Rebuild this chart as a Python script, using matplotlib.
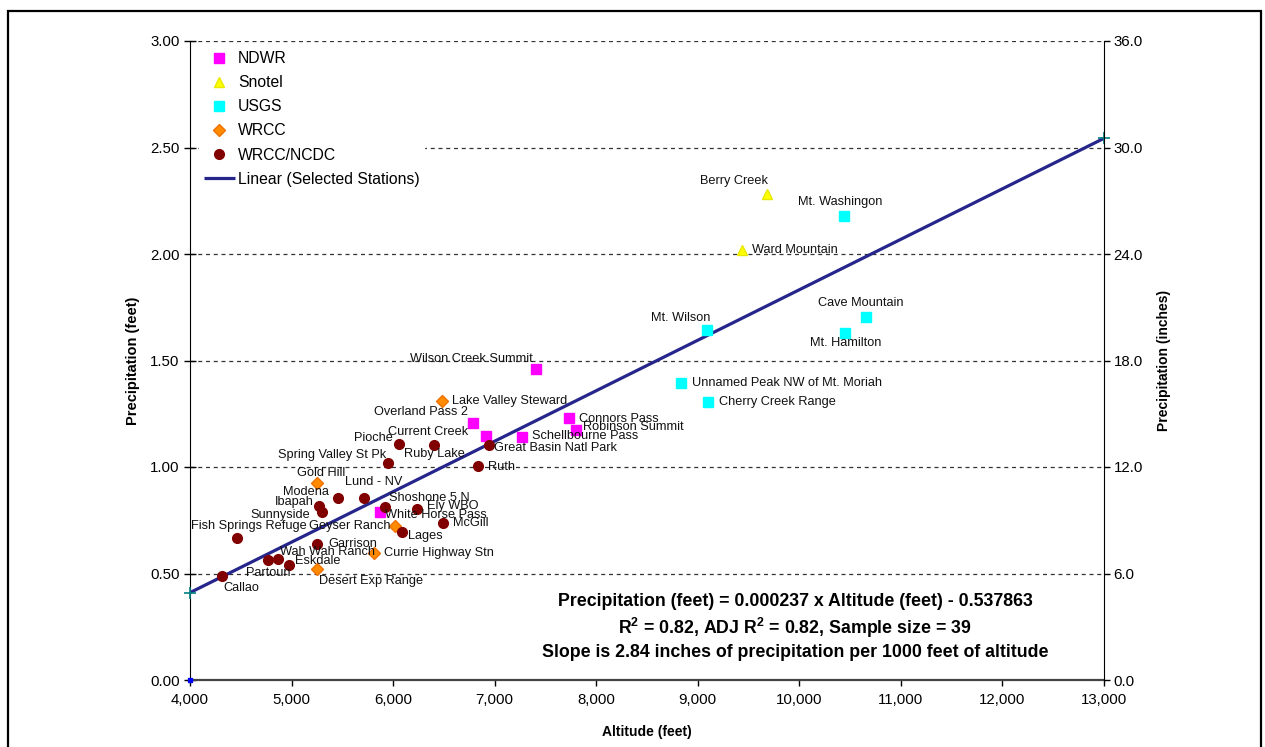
import matplotlib
matplotlib.use("Agg")
import matplotlib.pyplot as plt
from matplotlib.patches import Rectangle
from matplotlib.ticker import FuncFormatter, MultipleLocator
import numpy as np

plt.rcParams['font.family'] = ['Liberation Sans', 'DejaVu Sans']
plt.rcParams['mathtext.fontset'] = 'custom'
plt.rcParams['mathtext.bf'] = 'Liberation Sans:bold'
plt.rcParams['mathtext.rm'] = 'Liberation Sans'

# ---- station data: altitude (feet) and mean annual precipitation (feet) ----
ndwr_names = ["Wilson Creek Summit", "Overland Pass 2", "Current Creek", "Schellbourne Pass",
              "Connors Pass", "Robinson Summit", "White Horse Pass"]
ndwr_alt = [7410, 6790, 6910, 7270, 7730, 7800, 5870]
ndwr_precip = [1.460, 1.205, 1.146, 1.139, 1.229, 1.174, 0.787]

snotel_names = ["Berry Creek", "Ward Mountain"]
snotel_alt = [9680, 9435]
snotel_precip = [2.280, 2.019]

usgs_names = ["Mt. Washingon", "Cave Mountain", "Mt. Hamilton", "Mt. Wilson",
              "Unnamed Peak NW of Mt. Moriah", "Cherry Creek Range"]
usgs_alt = [10440, 10655, 10450, 9090, 8830, 9100]
usgs_precip = [2.180, 1.703, 1.628, 1.643, 1.396, 1.307]

wrcc_names = ["Lake Valley Steward", "Gold Hill", "Geyser Ranch", "Currie Highway Stn",
              "Desert Exp Range"]
wrcc_alt = [6480, 5250, 6020, 5815, 5250]
wrcc_precip = [1.310, 0.926, 0.723, 0.598, 0.521]

ncdc_names = ["Callao", "Partoun", "Wah Wah Ranch", "Eskdale", "Fish Springs Refuge",
              "Garrison", "Ibapah", "Sunnyside", "Modena", "Lund - NV", "Shoshone 5 N",
              "Ely WBO", "Lages", "McGill", "Spring Valley St Pk", "Pioche", "Ruby Lake",
              "Great Basin Natl Park", "Ruth"]
ncdc_alt = [4320, 4770, 4870, 4975, 4460, 5255, 5275, 5295, 5455, 5715, 5925,
            6240, 6090, 6490, 5945, 6060, 6405, 6945, 6835]
ncdc_precip = [0.490, 0.563, 0.567, 0.540, 0.665, 0.637, 0.817, 0.790, 0.856, 0.856, 0.814,
               0.801, 0.696, 0.738, 1.017, 1.107, 1.103, 1.103, 1.005]

# regression fit over the selected stations
fit_slope = 0.000237
fit_intercept = -0.537863
fit_range = [4000, 13000]

# label placement: (dx, dy) in pixels from the marker (screen down = +dy), alignment
label_place = {
    "Berry Creek": (-33, -13, "center"), "Mt. Washingon": (-4, -14, "center"),
    "Ward Mountain": (10, 0, "left"), "Cave Mountain": (-5, -14, "center"),
    "Mt. Hamilton": (1, 10, "center"), "Mt. Wilson": (-26, -12, "center"),
    "Unnamed Peak NW of Mt. Moriah": (11, 0, "left"), "Cherry Creek Range": (11, 0, "left"),
    "Wilson Creek Summit": (-4, -10, "right"), "Lake Valley Steward": (10, 0, "left"),
    "Overland Pass 2": (-5, -11, "right"), "Current Creek": (-17, -4, "right"),
    "Schellbourne Pass": (10, -1, "left"), "Connors Pass": (10, 1, "left"),
    "Robinson Summit": (7, -3, "left"), "Great Basin Natl Park": (5, 3, "left"),
    "Ruth": (10, 1, "left"), "Pioche": (-6, -6, "right"), "Ruby Lake": (0, 9, "center"),
    "Spring Valley St Pk": (-1, -8, "right"), "Gold Hill": (4, -10, "center"),
    "Lund - NV": (10, -16, "center"), "Modena": (-9, -6, "right"),
    "Ibapah": (-6, -4, "right"), "Sunnyside": (-11, 3, "right"),
    "Shoshone 5 N": (4, -9, "left"), "Ely WBO": (10, -3, "left"),
    "White Horse Pass": (5, 3, "left"), "McGill": (10, 0, "left"),
    "Geyser Ranch": (-5, 0, "right"), "Fish Springs Refuge": (12, -12, "center"),
    "Lages": (6, 4, "left"), "Garrison": (11, 0, "left"),
    "Currie Highway Stn": (10, 0, "left"), "Wah Wah Ranch": (2, -7, "left"),
    "Eskdale": (6, -4, "left"), "Partoun": (0, 13, "center"),
    "Desert Exp Range": (2, 12, "left"), "Callao": (1, 12, "left"),
}

W, H = 1265, 747
fig = plt.figure(figsize=(W / 100, H / 100), dpi=100)
fig.patch.set_facecolor("white")
fig.patches.append(Rectangle((8 / W, -0.02), (1261 - 8) / W, (747 - 11) / H + 0.02,
                             transform=fig.transFigure, fill=False, edgecolor="black",
                             linewidth=1.6))

ax = fig.add_axes([190 / W, 1 - 680 / H, (1104 - 190) / W, (680 - 41) / H])
ax.set_xlim(4000, 13000)
ax.set_ylim(0, 3.0)

# horizontal dashed gridlines
for gy in np.arange(0.5, 3.01, 0.5):
    ax.axhline(gy, color="#333333", lw=0.9, dashes=(3.2, 3.0), zorder=1)

series = [
    (ndwr_names, ndwr_alt, ndwr_precip, "NDWR",
     dict(marker="s", color="#FF00FF", mec="#FF00FF", ms=7.2)),
    (snotel_names, snotel_alt, snotel_precip, "Snotel",
     dict(marker="^", color="#FFFF00", mec="#E8E800", ms=7.2)),
    (usgs_names, usgs_alt, usgs_precip, "USGS",
     dict(marker="s", color="#00FFFF", mec="#00FFFF", ms=7.2)),
    (wrcc_names, wrcc_alt, wrcc_precip, "WRCC",
     dict(marker="D", color="#FF8C00", mec="#F07000", ms=6.0)),
    (ncdc_names, ncdc_alt, ncdc_precip, "WRCC/NCDC",
     dict(marker="o", color="#800000", mec="#800000", ms=7.0)),
]

handles = []
for names, alts, precs, lab, style in series:
    h, = ax.plot(alts, precs, linestyle="none", label=lab, zorder=4, **style)
    handles.append(h)
    for n, xa, yp in zip(names, alts, precs):
        dx, dy, ha = label_place[n]
        ax.annotate(n, (xa, yp), xytext=(dx, -dy), textcoords="offset pixels",
                    ha=ha, va="center", fontsize=9.2, color="#111111", zorder=5)

fx = np.array(fit_range)
fy = fit_slope * fx + fit_intercept
fl, = ax.plot(fx, fy, color="#25258C", lw=2.3, zorder=3, label="Linear (Selected Stations)",
              solid_capstyle="butt")
ax.plot(fx, fy, linestyle="none", marker="+", color="#008080", ms=9, mew=1.2, zorder=3,
        clip_on=False)
ax.plot([fit_range[0]], [0], linestyle="none", marker="s", color="#0000FF", ms=3,
        clip_on=False, zorder=6)
handles.append(fl)

leg = ax.legend(handles=handles, loc="upper left", bbox_to_anchor=(0.008, 0.994),
                fontsize=11.3, frameon=True, fancybox=False, framealpha=1,
                edgecolor="white", facecolor="white", handlelength=2.0,
                handletextpad=0.2, labelspacing=0.58, borderpad=0.3, borderaxespad=0.1,
                numpoints=1)
leg.set_zorder(6)

# equation and fit summary
eq_x = 0.662
ax.text(eq_x, 0.1236, "Precipitation (feet) = 0.000237 x Altitude (feet) - 0.537863",
        transform=ax.transAxes, ha="center", va="center", fontsize=12.8,
        fontweight="bold", zorder=6)
ax.text(eq_x, 0.0814, r"R$^\mathbf{2}$ = 0.82, ADJ R$^\mathbf{2}$ = 0.82, Sample size = 39",
        transform=ax.transAxes, ha="center", va="center", fontsize=12.8,
        fontweight="bold", zorder=6)
ax.text(eq_x, 0.0423, "Slope is 2.84 inches of precipitation per 1000 feet of altitude",
        transform=ax.transAxes, ha="center", va="center", fontsize=12.8,
        fontweight="bold", zorder=6)

# axes styling
ax.xaxis.set_major_locator(MultipleLocator(1000))
ax.yaxis.set_major_locator(MultipleLocator(0.5))
ax.xaxis.set_major_formatter(FuncFormatter(lambda v, p: f"{int(v):,}"))
ax.yaxis.set_major_formatter(FuncFormatter(lambda v, p: f"{v:.2f}"))
ax.tick_params(axis="y", direction="inout", length=9, width=1, labelsize=10.8, pad=3)
ax.tick_params(axis="x", direction="out", length=4, width=1, labelsize=10.8, pad=5)
ax.spines["top"].set_visible(False)
ax.spines["right"].set_visible(False)
ax.spines["left"].set_color("black")
ax.spines["bottom"].set_color("#444444")
ax.spines["bottom"].set_linewidth(1.6)
ax.set_xlabel("Altitude (feet)", fontsize=10, fontweight="bold", labelpad=13)
ax.set_ylabel("Precipitation (feet)", fontsize=10.5, fontweight="bold", labelpad=7)

ax2 = ax.twinx()
ax2.set_ylim(0, 36)
ax2.yaxis.set_major_locator(MultipleLocator(6))
ax2.yaxis.set_major_formatter(FuncFormatter(lambda v, p: f"{v:.1f}"))
ax2.tick_params(axis="y", direction="out", length=4, width=1, labelsize=10.8, pad=3)
for s in ["top", "left", "bottom"]:
    ax2.spines[s].set_visible(False)
ax2.spines["right"].set_color("black")
ax2.set_ylabel("Precipitation (inches)", fontsize=10, fontweight="bold", labelpad=10)

fig.savefig("out.png", dpi=100)
